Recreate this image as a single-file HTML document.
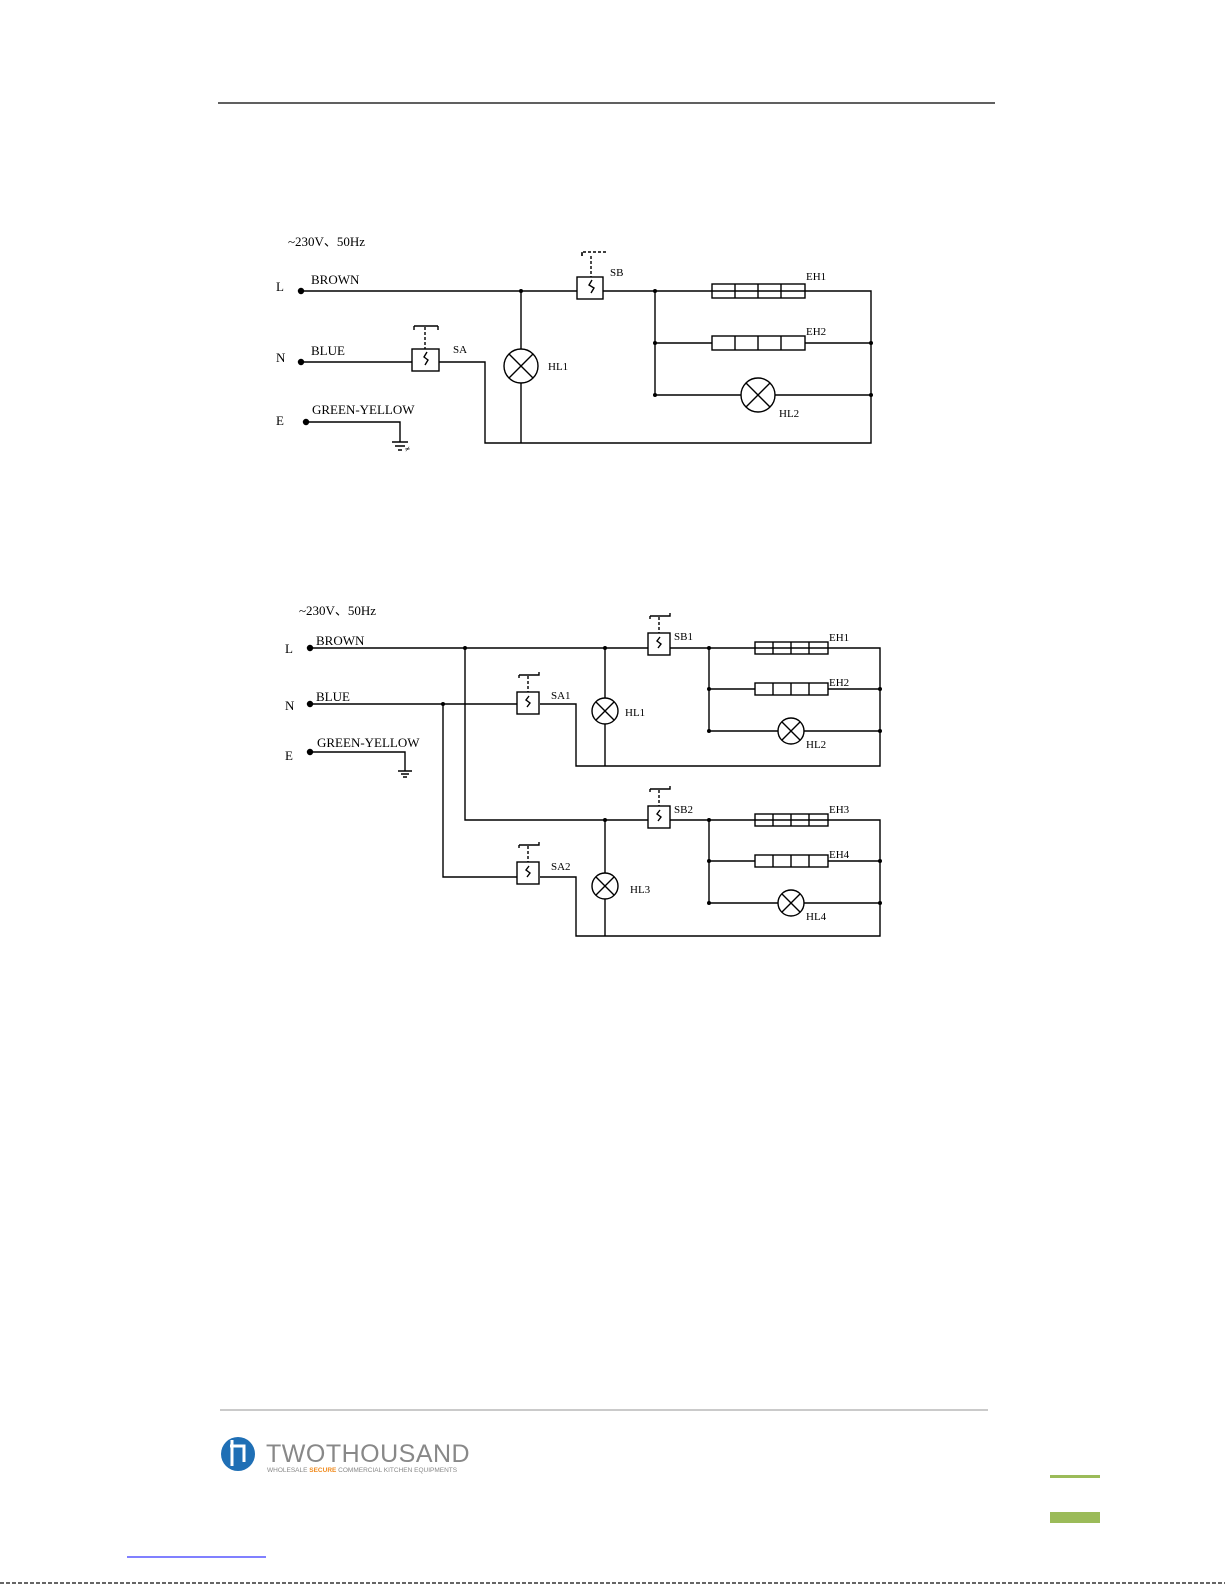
<!DOCTYPE html>
<html><head><meta charset="utf-8"><style>
body{margin:0;width:1225px;height:1585px;background:#fff;position:relative;overflow:hidden}
svg{position:absolute;left:0;top:0}
text{font-family:"Liberation Serif",serif;font-size:13px;fill:#000}
</style></head><body>
<svg width="1225" height="1585" viewBox="0 0 1225 1585" stroke="#000" stroke-width="1.4" fill="none">
<line x1="218" y1="103" x2="995" y2="103" stroke-width="1.2"/>
<!-- Diagram 1 -->
<g>
<text x="288" y="246" stroke="none" style="font-size:13px">~230V、50Hz</text>
<text x="276" y="291" stroke="none">L</text><text x="311" y="284" stroke="none">BROWN</text>
<text x="276" y="362" stroke="none">N</text><text x="311" y="355" stroke="none">BLUE</text>
<text x="276" y="425" stroke="none">E</text><text x="312" y="414" stroke="none">GREEN-YELLOW</text>
<circle cx="301" cy="291" r="2.5" fill="#000"/><circle cx="301" cy="362" r="2.5" fill="#000"/><circle cx="306" cy="422" r="2.5" fill="#000"/>
<path d="M301 291H577M603 291H871V443H485V362H439M412 362H301"/>
<path d="M306 422H400V442M392 442h16M395 446h10M398 450h4"/>
<text x="405" y="452" stroke="none" style="font-size:9px">≠</text>
<rect x="577" y="277" width="26" height="22"/><path d="M582 256v-4h24M591 256v21" stroke-dasharray="3 2"/><path d="M582 252v4"/>
<path d="M592 280l-3 5 5 3-3 5"/>
<text x="610" y="276" stroke="none" style="font-size:11px">SB</text>
<rect x="412" y="349" width="27" height="22"/><path d="M414 326h24M414 326v4M438 326v4"/><path d="M425 327v22" stroke-dasharray="3 2"/>
<path d="M427 352l-3 5 4 3-3 5"/>
<text x="453" y="353" stroke="none" style="font-size:11px">SA</text>
<path d="M521 291V349M521 383V443"/><circle cx="521" cy="366" r="17"/><path d="M509 354l24 24M533 354l-24 24"/>
<text x="548" y="370" stroke="none" style="font-size:11px">HL1</text>
<path d="M655 291V395H741M775 395H871M655 343H712M805 343H871"/>
<rect x="712" y="284" width="93" height="14"/><path d="M735 284v14M758 284v14M781 284v14"/>
<rect x="712" y="336" width="93" height="14"/><path d="M735 336v14M758 336v14M781 336v14"/>
<circle cx="758" cy="395" r="17"/><path d="M746 383l24 24M770 383l-24 24"/>
<text x="806" y="280" stroke="none" style="font-size:11px">EH1</text>
<text x="806" y="335" stroke="none" style="font-size:11px">EH2</text>
<text x="779" y="417" stroke="none" style="font-size:11px">HL2</text>
<g fill="#000" stroke="none"><circle cx="521" cy="291" r="2"/><circle cx="655" cy="291" r="2"/><circle cx="655" cy="343" r="2"/><circle cx="655" cy="395" r="2"/><circle cx="871" cy="343" r="2"/><circle cx="871" cy="395" r="2"/></g>
</g>
<!-- Diagram 2 -->
<g>
<text x="299" y="615" stroke="none" style="font-size:13px">~230V、50Hz</text>
<text x="285" y="653" stroke="none">L</text><text x="316" y="645" stroke="none">BROWN</text>
<text x="285" y="710" stroke="none">N</text><text x="316" y="701" stroke="none">BLUE</text>
<text x="285" y="760" stroke="none">E</text><text x="317" y="747" stroke="none">GREEN-YELLOW</text>
<circle cx="310" cy="648" r="2.5" fill="#000"/><circle cx="310" cy="704" r="2.5" fill="#000"/><circle cx="310" cy="752" r="2.5" fill="#000"/>
<path d="M310 752H405V771M398 771h14M401 774h8M403 777h4"/>
<path d="M310 648H648M670 648H880V766H576V704H540M517 704H310"/>
<path d="M465 648V820H648M670 820H880V936H576V877H540M517 877H443V704"/>
<path d="M605 648V698M605 724V766M605 820V873M605 899V936"/>
<circle cx="605" cy="711" r="13"/><path d="M596 702l18 18M614 702l-18 18"/>
<circle cx="605" cy="886" r="13"/><path d="M596 877l18 18M614 877l-18 18"/>
<text x="625" y="716" stroke="none" style="font-size:11px">HL1</text>
<text x="630" y="893" stroke="none" style="font-size:11px">HL3</text>
<g id="sw">
<rect x="648" y="633" width="22" height="22"/><path d="M650 616h20v-3M650 616v3"/><path d="M659 617v16" stroke-dasharray="3 2"/><path d="M660 637l-3 4 4 3-3 4"/>
</g>
<use href="#sw" y="173"/><use href="#sw" x="-131" y="59"/><use href="#sw" x="-131" y="229"/>
<text x="674" y="640" stroke="none" style="font-size:11px">SB1</text>
<text x="674" y="813" stroke="none" style="font-size:11px">SB2</text>
<text x="551" y="699" stroke="none" style="font-size:11px">SA1</text>
<text x="551" y="870" stroke="none" style="font-size:11px">SA2</text>
<g id="br">
<path d="M709 648V731H778M804 731H880M709 689H755M828 689H880"/>
<rect x="755" y="642" width="73" height="12"/><path d="M773 642v12M791 642v12M809 642v12"/>
<rect x="755" y="683" width="73" height="12"/><path d="M773 683v12M791 683v12M809 683v12"/>
<circle cx="791" cy="731" r="13"/><path d="M782 722l18 18M800 722l-18 18"/>
<g fill="#000" stroke="none"><circle cx="709" cy="648" r="2"/><circle cx="709" cy="689" r="2"/><circle cx="709" cy="731" r="2"/><circle cx="880" cy="689" r="2"/><circle cx="880" cy="731" r="2"/></g>
</g>
<use href="#br" y="172"/>
<text x="829" y="641" stroke="none" style="font-size:11px">EH1</text>
<text x="829" y="686" stroke="none" style="font-size:11px">EH2</text>
<text x="806" y="748" stroke="none" style="font-size:11px">HL2</text>
<text x="829" y="813" stroke="none" style="font-size:11px">EH3</text>
<text x="829" y="858" stroke="none" style="font-size:11px">EH4</text>
<text x="806" y="920" stroke="none" style="font-size:11px">HL4</text>
<g fill="#000" stroke="none"><circle cx="465" cy="648" r="2"/><circle cx="605" cy="648" r="2"/><circle cx="443" cy="704" r="2"/><circle cx="605" cy="820" r="2"/></g>
</g>
<!-- footer -->
<line x1="220" y1="1410" x2="988" y2="1410" stroke="#aaa" stroke-width="1.2"/>
<circle cx="238" cy="1454" r="17" fill="#1f6fb5" stroke="none"/>
<path d="M232 1440v26M230 1446h14v16" stroke="#fff" stroke-width="3"/>
<text x="266" y="1462" stroke="none" style="font-family:'Liberation Sans',sans-serif;font-size:25px;fill:#888;letter-spacing:0.5px">TWOTHOUSAND</text>
<text x="267" y="1472" stroke="none" style="font-family:'Liberation Sans',sans-serif;font-size:6.5px;fill:#888">WHOLESALE <tspan style="fill:#f08a1c;font-weight:bold">SECURE</tspan> COMMERCIAL KITCHEN EQUIPMENTS</text>
<rect x="1050" y="1475" width="50" height="3" fill="#9bbb59" stroke="none"/>
<rect x="1050" y="1512" width="50" height="11" fill="#9bbb59" stroke="none"/>
<line x1="127" y1="1557" x2="266" y2="1557" stroke="#00f" stroke-width="1"/>
<line x1="0" y1="1583" x2="1225" y2="1583" stroke="#333" stroke-width="1.5" stroke-dasharray="4 2"/>
</svg>
</body></html>
